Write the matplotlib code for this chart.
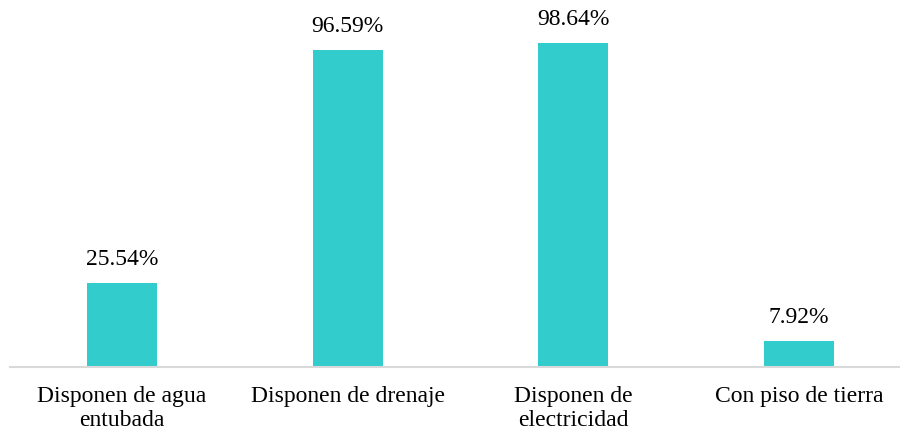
import matplotlib
matplotlib.use("Agg")
import matplotlib.pyplot as plt

categories = ["Disponen de agua\nentubada", "Disponen de drenaje", "Disponen de\nelectricidad", "Con piso de tierra"]
values = [25.54, 96.59, 98.64, 7.92]
value_labels = ["25.54%", "96.59%", "98.64%", "7.92%"]

plt.rcParams['font.family'] = ['Liberation Serif', 'DejaVu Serif']

fig = plt.figure(figsize=(9, 4.33), dpi=100)
ax = fig.add_axes([10/900, 66/433, 890/900, 367/433])

x = list(range(len(categories)))
bars = ax.bar(x, values, width=0.31, color="#33CCCC")

for xi, v, lab in zip(x, values, value_labels):
    ax.annotate(lab, (xi, v), xytext=(0, 13), textcoords="offset points",
                ha="center", va="baseline", fontsize=17, color="#000000")

ax.set_xlim(-0.496, 3.447)
ax.set_ylim(0, 111.7)
ax.set_xticks(x)
ax.set_xticklabels(categories, fontsize=17, linespacing=1.18)
ax.tick_params(axis="x", length=0, pad=14)
ax.set_yticks([])
for s in ["top", "right", "left"]:
    ax.spines[s].set_visible(False)
ax.spines["bottom"].set_color("#d9d9d9")
ax.spines["bottom"].set_linewidth(1.5)

fig.savefig("out.png", dpi=100)
